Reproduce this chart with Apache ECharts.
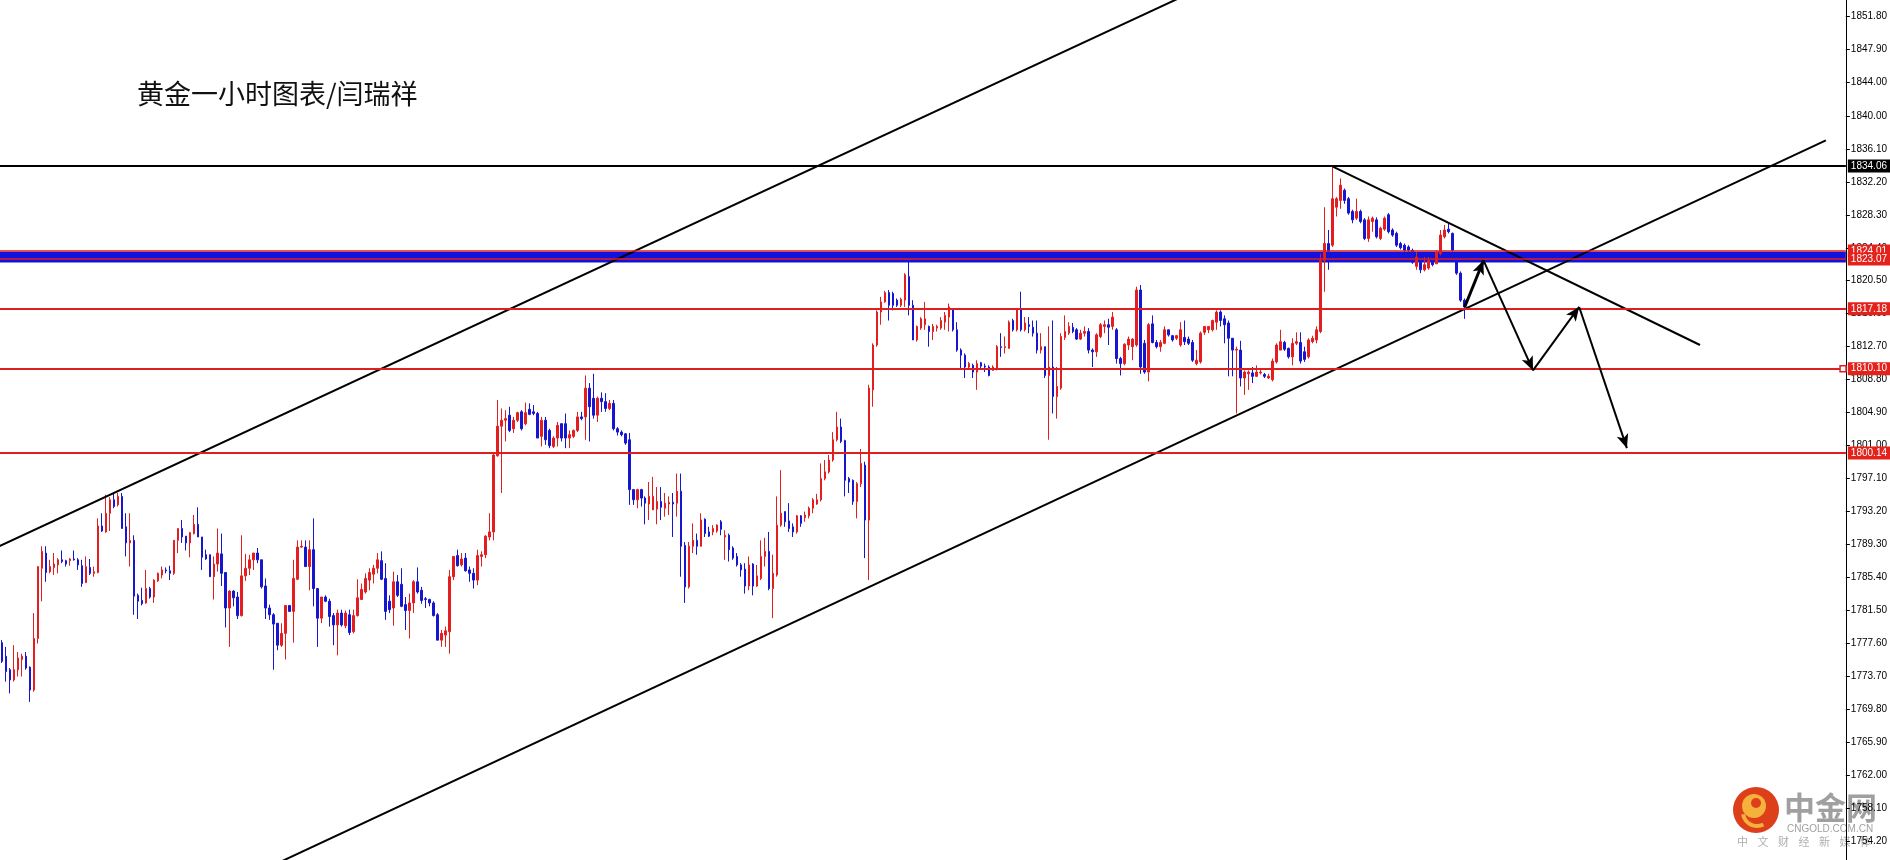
<!DOCTYPE html>
<html>
<head>
<meta charset="utf-8">
<title>黄金一小时图表</title>
<script src="https://cdn.jsdelivr.net/npm/echarts@6.0.0/dist/echarts.min.js"></script>
<style>
  html, body { margin: 0; padding: 0; background: #fff; }
  #kChart { width: 1890px; height: 860px; }
</style>
</head>
<body>
<div id="kChart"></div>
<script>
// 1小时K线, 每根 [开, 收, 低, 高] 分成四个数组
const slotCount = 462; // 右侧留空的K线位
const categories = Array.from({ length: slotCount }, (_, i) => 'H' + i);

const opens = [
  1777.7, 1776.1, 1774.5, 1773.3, 1774.5, 1775.7, 1776.1, 1774.8, 1772.1, 1778.2,
  1786.5, 1788.3, 1786.1, 1786.6, 1786.9, 1787.5, 1787.4, 1787.4, 1787.6, 1787.5,
  1786.8, 1784.8, 1786.6, 1785.9, 1786.0, 1791.5, 1790.8, 1793.0, 1794.6, 1794.0,
  1795.0, 1791.4, 1789.5, 1789.8, 1783.3, 1782.7, 1782.4, 1784.1, 1783.1, 1785.0,
  1785.7, 1786.3, 1786.2, 1785.9, 1789.8, 1791.2, 1790.3, 1789.5, 1790.6, 1791.7,
  1790.2, 1788.1, 1788.1, 1785.5, 1787.0, 1788.2, 1786.0, 1781.8, 1783.8, 1783.1,
  1780.9, 1785.6, 1786.5, 1787.5, 1788.3, 1787.5, 1784.4, 1781.8, 1781.0, 1780.0,
  1777.4, 1778.8, 1782.1, 1781.4, 1785.2, 1789.0, 1789.0, 1786.7, 1788.7, 1784.1,
  1780.6, 1783.1, 1782.6, 1780.9, 1779.8, 1781.2, 1779.7, 1781.0, 1779.0, 1780.9,
  1782.8, 1783.7, 1785.1, 1785.8, 1786.5, 1787.4, 1785.3, 1782.6, 1781.8, 1784.9,
  1784.6, 1782.2, 1781.5, 1782.4, 1784.9, 1783.9, 1782.9, 1782.8, 1782.4, 1781.0,
  1778.0, 1778.6, 1779.0, 1785.5, 1788.0, 1786.9, 1787.7, 1786.3, 1785.9, 1785.1,
  1787.9, 1788.1, 1790.2, 1790.8, 1799.8, 1803.3, 1804.0, 1804.6, 1803.0, 1804.0,
  1805.0, 1803.6, 1805.3, 1805.0, 1804.8, 1802.1, 1804.0, 1802.8, 1800.9, 1801.9,
  1803.6, 1803.6, 1801.9, 1802.1, 1802.8, 1804.4, 1804.4, 1807.8, 1806.6, 1804.6,
  1806.6, 1806.2, 1805.4, 1806.0, 1803.0, 1802.6, 1802.4, 1801.7, 1795.8, 1794.6,
  1795.8, 1794.8, 1794.1, 1793.4, 1793.5, 1794.4, 1793.6, 1794.1, 1794.3, 1794.2,
  1795.6, 1789.2, 1784.3, 1789.1, 1789.8, 1789.1, 1792.3, 1790.8, 1790.8, 1790.9,
  1792.0, 1790.2, 1790.4, 1788.9, 1787.9, 1786.9, 1786.4, 1784.4, 1787.0, 1784.4,
  1785.3, 1787.9, 1788.5, 1784.1, 1785.7, 1791.6, 1793.2, 1792.1, 1791.4, 1790.8,
  1792.7, 1792.5, 1792.7, 1793.6, 1794.1, 1794.6, 1797.1, 1797.9, 1799.3, 1801.7,
  1803.2, 1801.6, 1797.1, 1796.9, 1794.4, 1796.5, 1798.7, 1792.2, 1807.6, 1812.9,
  1816.8, 1818.0, 1819.1, 1819.0, 1818.2, 1817.6, 1818.2, 1821.0, 1817.6, 1813.5,
  1814.9, 1815.3, 1815.1, 1814.5, 1814.9, 1814.9, 1815.6, 1816.2, 1817.2, 1814.7,
  1812.3, 1811.7, 1810.3, 1810.5, 1809.7, 1810.8, 1810.4, 1810.3, 1809.9, 1810.1,
  1812.7, 1812.6, 1812.5, 1815.8, 1814.7, 1817.2, 1814.7, 1815.3, 1815.0, 1814.3,
  1812.3, 1812.7, 1809.3, 1810.3, 1806.8, 1807.8, 1813.8, 1814.3, 1815.0, 1814.7,
  1813.6, 1814.3, 1814.5, 1812.3, 1812.1, 1813.9, 1815.1, 1815.3, 1815.1, 1814.7,
  1811.3, 1810.7, 1812.9, 1812.7, 1812.9, 1819.4, 1813.1, 1809.7, 1815.4, 1813.2,
  1812.7, 1813.1, 1814.7, 1814.0, 1813.7, 1812.9, 1813.8, 1813.6, 1813.2, 1810.7,
  1810.9, 1814.4, 1814.7, 1814.7, 1815.6, 1816.8, 1816.0, 1815.5, 1813.7, 1812.3,
  1812.3, 1809.0, 1809.5, 1809.6, 1809.2, 1809.6, 1809.4, 1809.0, 1808.8, 1810.9,
  1812.3, 1813.2, 1812.5, 1811.5, 1813.1, 1813.2, 1812.1, 1811.5, 1813.3, 1813.5,
  1814.5, 1822.9, 1824.9, 1824.7, 1829.2, 1830.0, 1831.2, 1830.2, 1828.7, 1827.9,
  1828.7, 1827.7, 1825.5, 1827.5, 1827.7, 1825.5, 1826.6, 1828.3, 1826.5, 1826.1,
  1824.9, 1824.7, 1824.5, 1824.1, 1822.2, 1822.7, 1821.8, 1822.0, 1822.9, 1822.5,
  1823.7, 1825.7, 1826.6, 1826.1, 1822.9, 1821.4, 1818.2
];
const closes = [
  1775.5, 1774.3, 1773.3, 1774.5, 1775.9, 1776.1, 1774.7, 1772.1, 1778.2, 1786.7,
  1788.5, 1786.0, 1786.7, 1787.0, 1787.5, 1787.3, 1787.0, 1787.6, 1787.5, 1786.9,
  1784.7, 1786.7, 1785.9, 1786.1, 1791.5, 1790.9, 1793.0, 1794.6, 1793.8, 1795.0,
  1791.2, 1789.5, 1789.8, 1783.2, 1782.6, 1782.3, 1784.1, 1783.1, 1785.1, 1785.9,
  1786.3, 1786.2, 1785.9, 1789.8, 1791.2, 1790.2, 1789.5, 1790.7, 1791.7, 1790.2,
  1787.8, 1787.6, 1785.5, 1787.0, 1788.3, 1785.9, 1781.8, 1783.8, 1783.0, 1780.9,
  1785.6, 1786.5, 1787.5, 1788.3, 1787.5, 1784.3, 1781.8, 1781.0, 1779.9, 1777.4,
  1778.8, 1782.1, 1781.4, 1785.3, 1789.0, 1789.1, 1786.7, 1788.7, 1784.1, 1780.6,
  1783.1, 1782.6, 1780.8, 1779.8, 1781.2, 1779.8, 1781.2, 1778.9, 1780.9, 1783.0,
  1784.0, 1785.3, 1786.0, 1786.5, 1787.5, 1785.2, 1781.4, 1781.6, 1784.9, 1783.3,
  1782.0, 1781.5, 1782.4, 1784.9, 1783.7, 1782.7, 1782.8, 1782.4, 1780.9, 1778.0,
  1778.8, 1779.1, 1785.5, 1787.9, 1786.8, 1787.6, 1786.2, 1785.9, 1785.1, 1788.0,
  1788.1, 1790.3, 1790.8, 1799.9, 1803.3, 1804.0, 1804.2, 1802.8, 1804.0, 1804.9,
  1803.0, 1804.9, 1804.7, 1804.8, 1801.9, 1804.0, 1801.7, 1801.0, 1801.9, 1803.4,
  1801.9, 1801.9, 1802.3, 1802.8, 1804.4, 1804.2, 1807.8, 1805.6, 1804.6, 1806.6,
  1806.2, 1805.4, 1806.0, 1803.0, 1802.6, 1802.3, 1801.3, 1795.8, 1794.6, 1795.8,
  1794.8, 1794.2, 1795.0, 1795.0, 1794.4, 1793.7, 1794.2, 1794.3, 1794.1, 1795.6,
  1789.1, 1784.3, 1789.1, 1789.8, 1789.1, 1792.2, 1790.6, 1790.3, 1791.2, 1791.6,
  1791.1, 1790.4, 1788.7, 1787.7, 1786.9, 1786.3, 1784.4, 1786.9, 1784.4, 1785.6,
  1787.9, 1788.5, 1784.1, 1785.9, 1791.6, 1793.0, 1792.0, 1791.2, 1790.8, 1792.7,
  1791.8, 1792.8, 1793.6, 1794.6, 1794.6, 1797.1, 1797.9, 1799.3, 1801.7, 1803.2,
  1801.5, 1796.9, 1796.7, 1794.4, 1796.5, 1798.9, 1792.2, 1807.8, 1812.9, 1816.8,
  1818.0, 1819.1, 1817.6, 1817.6, 1817.6, 1818.3, 1821.2, 1817.6, 1813.5, 1815.1,
  1816.0, 1816.0, 1814.5, 1815.1, 1815.1, 1815.8, 1816.4, 1817.4, 1814.7, 1812.3,
  1811.7, 1810.3, 1810.7, 1809.7, 1810.7, 1810.4, 1810.3, 1809.3, 1810.3, 1812.7,
  1812.6, 1812.7, 1815.6, 1814.7, 1817.2, 1814.7, 1815.5, 1815.1, 1814.3, 1812.3,
  1812.7, 1809.3, 1810.3, 1806.8, 1808.0, 1813.9, 1814.5, 1815.1, 1814.5, 1813.6,
  1814.3, 1814.5, 1812.3, 1812.1, 1814.1, 1815.3, 1815.3, 1815.0, 1816.2, 1811.3,
  1810.7, 1813.0, 1813.6, 1813.6, 1819.4, 1810.3, 1809.7, 1815.3, 1813.2, 1812.7,
  1813.2, 1814.7, 1814.1, 1813.5, 1814.0, 1814.7, 1813.3, 1813.1, 1811.1, 1811.1,
  1814.3, 1815.1, 1815.1, 1815.8, 1816.8, 1815.8, 1815.3, 1813.7, 1812.3, 1812.4,
  1809.0, 1809.7, 1809.7, 1809.2, 1809.7, 1809.7, 1809.2, 1809.2, 1811.0, 1812.9,
  1813.3, 1812.4, 1811.5, 1813.1, 1813.3, 1811.0, 1811.2, 1813.5, 1813.7, 1814.7,
  1822.9, 1824.9, 1823.7, 1830.2, 1830.2, 1831.8, 1830.0, 1828.5, 1827.7, 1828.7,
  1827.5, 1825.5, 1827.7, 1827.9, 1825.7, 1826.7, 1827.9, 1826.3, 1825.9, 1824.7,
  1824.4, 1824.1, 1824.1, 1822.7, 1823.3, 1821.8, 1822.4, 1822.9, 1822.4, 1823.9,
  1825.9, 1826.5, 1826.3, 1824.1, 1821.4, 1818.2, 1817.4
];
const lows = [
  1775.3, 1773.1, 1771.7, 1773.1, 1773.7, 1773.7, 1774.5, 1770.7, 1771.9, 1777.6,
  1782.6, 1784.9, 1785.9, 1785.7, 1785.9, 1787.1, 1786.7, 1786.8, 1787.4, 1786.3,
  1784.3, 1784.8, 1785.7, 1785.5, 1785.9, 1790.8, 1790.7, 1790.9, 1793.6, 1793.8,
  1791.2, 1787.9, 1786.7, 1781.0, 1780.5, 1782.1, 1782.3, 1782.9, 1782.4, 1784.9,
  1785.3, 1785.9, 1785.1, 1785.7, 1788.3, 1789.5, 1788.6, 1787.8, 1790.5, 1790.2,
  1786.3, 1787.5, 1785.5, 1782.8, 1786.1, 1784.4, 1779.5, 1777.2, 1782.0, 1780.5,
  1780.8, 1785.0, 1785.7, 1786.3, 1787.1, 1784.1, 1780.5, 1780.4, 1774.5, 1776.8,
  1777.2, 1775.7, 1781.4, 1777.7, 1785.1, 1788.9, 1786.7, 1783.9, 1782.0, 1777.2,
  1780.0, 1782.5, 1779.6, 1777.4, 1776.2, 1779.6, 1779.4, 1778.6, 1778.8, 1780.8,
  1782.8, 1783.5, 1783.9, 1784.7, 1785.9, 1785.1, 1780.4, 1781.2, 1779.7, 1783.1,
  1781.9, 1779.2, 1778.2, 1781.2, 1783.5, 1782.3, 1781.8, 1782.0, 1780.8, 1778.0,
  1777.2, 1777.2, 1776.4, 1785.1, 1786.7, 1786.7, 1786.1, 1784.9, 1784.1, 1784.5,
  1786.7, 1787.7, 1789.8, 1789.8, 1799.7, 1795.4, 1801.5, 1802.6, 1802.5, 1803.8,
  1802.8, 1803.4, 1804.6, 1804.6, 1801.9, 1800.9, 1801.1, 1800.7, 1800.7, 1800.9,
  1801.5, 1800.7, 1800.7, 1801.9, 1802.6, 1804.0, 1801.7, 1801.5, 1804.2, 1803.8,
  1805.0, 1805.0, 1805.2, 1802.8, 1802.2, 1802.1, 1801.1, 1794.0, 1794.0, 1793.6,
  1793.8, 1791.7, 1792.2, 1793.4, 1791.7, 1792.2, 1792.6, 1792.8, 1790.2, 1792.6,
  1785.5, 1782.4, 1784.1, 1788.3, 1788.1, 1789.1, 1790.2, 1790.2, 1790.4, 1790.7,
  1790.4, 1787.5, 1787.3, 1787.5, 1786.7, 1785.5, 1783.5, 1783.9, 1783.3, 1784.3,
  1785.1, 1786.7, 1783.9, 1780.6, 1785.5, 1791.4, 1791.4, 1790.8, 1790.2, 1790.6,
  1791.4, 1792.0, 1792.4, 1793.0, 1794.0, 1794.4, 1796.9, 1797.7, 1799.1, 1801.5,
  1801.3, 1795.0, 1795.4, 1794.0, 1792.4, 1796.1, 1787.7, 1785.1, 1805.6, 1812.7,
  1815.3, 1817.9, 1815.8, 1817.0, 1817.4, 1817.4, 1817.4, 1816.4, 1813.5, 1813.3,
  1814.7, 1814.7, 1812.7, 1813.5, 1814.5, 1814.7, 1814.7, 1814.5, 1814.5, 1812.1,
  1810.1, 1809.0, 1810.0, 1809.0, 1807.6, 1810.1, 1809.7, 1809.2, 1809.9, 1809.9,
  1811.5, 1811.9, 1812.5, 1814.5, 1814.5, 1814.5, 1814.5, 1814.3, 1813.9, 1811.9,
  1811.9, 1809.0, 1801.7, 1804.8, 1804.2, 1807.6, 1813.5, 1814.1, 1814.3, 1813.5,
  1813.5, 1813.9, 1811.9, 1810.3, 1811.5, 1813.7, 1814.3, 1812.9, 1814.7, 1810.7,
  1809.3, 1810.5, 1812.3, 1811.1, 1812.7, 1809.5, 1809.5, 1808.6, 1813.1, 1812.5,
  1812.1, 1813.0, 1813.9, 1813.3, 1813.5, 1812.7, 1812.9, 1812.9, 1810.9, 1810.5,
  1810.7, 1814.1, 1814.3, 1814.5, 1814.7, 1815.1, 1813.1, 1809.2, 1809.2, 1804.8,
  1808.0, 1807.0, 1807.6, 1808.4, 1809.1, 1809.4, 1809.0, 1808.9, 1808.6, 1810.7,
  1812.3, 1812.2, 1811.3, 1810.5, 1812.9, 1810.7, 1810.9, 1811.3, 1813.1, 1813.1,
  1814.3, 1819.2, 1821.8, 1824.5, 1828.1, 1829.0, 1829.6, 1828.3, 1827.3, 1827.7,
  1827.3, 1825.3, 1825.1, 1826.3, 1825.5, 1825.3, 1826.4, 1826.1, 1825.7, 1824.5,
  1824.2, 1823.9, 1823.9, 1822.5, 1821.8, 1821.4, 1821.6, 1821.8, 1822.2, 1822.5,
  1823.5, 1825.5, 1826.1, 1822.9, 1821.2, 1818.0, 1816.0
];
const highs = [
  1778.0, 1777.2, 1774.7, 1777.4, 1776.6, 1776.4, 1776.6, 1774.9, 1781.2, 1786.7,
  1789.1, 1789.1, 1787.5, 1788.3, 1787.7, 1788.6, 1787.5, 1787.7, 1788.6, 1787.7,
  1787.5, 1787.9, 1787.6, 1786.7, 1792.4, 1793.0, 1795.2, 1794.9, 1795.4, 1795.4,
  1795.4, 1793.0, 1793.0, 1790.4, 1783.5, 1784.2, 1786.3, 1784.3, 1785.2, 1786.0,
  1786.7, 1786.6, 1786.8, 1789.8, 1791.2, 1792.2, 1790.3, 1790.8, 1792.8, 1793.7,
  1790.2, 1788.7, 1788.1, 1787.9, 1791.2, 1790.6, 1786.0, 1783.9, 1783.9, 1783.7,
  1790.4, 1788.2, 1788.1, 1788.3, 1788.9, 1787.5, 1785.3, 1782.2, 1781.2, 1780.0,
  1780.0, 1782.1, 1782.1, 1787.5, 1789.8, 1789.8, 1789.8, 1789.8, 1792.4, 1784.1,
  1783.1, 1783.3, 1782.9, 1781.2, 1781.6, 1781.6, 1781.5, 1781.6, 1781.6, 1785.2,
  1784.7, 1785.9, 1786.5, 1786.9, 1788.3, 1788.5, 1787.1, 1783.3, 1786.1, 1785.7,
  1786.5, 1783.1, 1783.5, 1785.1, 1786.6, 1784.3, 1783.1, 1782.9, 1782.6, 1781.2,
  1779.2, 1779.6, 1786.3, 1787.9, 1788.7, 1788.3, 1788.3, 1786.7, 1786.5, 1788.7,
  1788.5, 1790.4, 1793.0, 1800.1, 1806.4, 1805.4, 1805.2, 1805.6, 1804.4, 1805.0,
  1805.2, 1806.1, 1806.0, 1805.8, 1805.0, 1804.4, 1804.4, 1803.0, 1802.1, 1803.8,
  1803.6, 1804.8, 1802.8, 1802.9, 1805.0, 1805.0, 1809.3, 1808.4, 1809.5, 1806.8,
  1807.3, 1807.2, 1806.4, 1806.4, 1803.2, 1802.8, 1802.5, 1802.5, 1795.8, 1795.9,
  1795.9, 1795.0, 1796.7, 1797.3, 1796.1, 1796.1, 1795.4, 1795.0, 1795.4, 1797.7,
  1797.7, 1789.6, 1789.6, 1791.8, 1790.6, 1793.0, 1792.4, 1791.4, 1791.6, 1791.7,
  1792.2, 1791.0, 1790.6, 1789.1, 1788.3, 1787.1, 1787.1, 1787.9, 1787.1, 1786.9,
  1789.8, 1790.1, 1790.8, 1788.1, 1795.0, 1798.1, 1793.2, 1794.2, 1791.8, 1792.8,
  1792.8, 1793.2, 1793.8, 1794.8, 1795.3, 1798.9, 1799.3, 1799.9, 1802.6, 1805.0,
  1804.2, 1801.7, 1797.3, 1797.0, 1796.7, 1800.6, 1799.1, 1808.2, 1813.1, 1817.0,
  1818.6, 1819.3, 1819.4, 1819.2, 1818.4, 1818.5, 1821.4, 1823.1, 1818.2, 1815.2,
  1816.2, 1818.0, 1815.2, 1815.4, 1815.3, 1816.2, 1816.8, 1817.8, 1817.2, 1815.6,
  1812.5, 1811.9, 1810.9, 1810.7, 1811.1, 1810.9, 1810.7, 1810.5, 1810.5, 1812.9,
  1814.3, 1813.9, 1815.8, 1816.0, 1817.2, 1819.2, 1816.2, 1816.2, 1815.8, 1815.8,
  1814.3, 1812.7, 1815.1, 1815.8, 1810.3, 1814.3, 1816.4, 1815.6, 1815.5, 1814.9,
  1814.7, 1815.1, 1814.9, 1812.5, 1814.3, 1815.5, 1815.8, 1816.0, 1816.8, 1814.9,
  1811.5, 1813.1, 1813.9, 1813.7, 1819.8, 1820.0, 1813.5, 1815.5, 1816.4, 1813.5,
  1813.5, 1815.1, 1814.7, 1814.1, 1814.1, 1815.6, 1815.8, 1813.9, 1813.5, 1812.3,
  1814.5, 1815.1, 1815.1, 1815.9, 1817.0, 1817.0, 1816.4, 1815.8, 1813.7, 1812.7,
  1813.4, 1809.9, 1809.9, 1810.3, 1810.5, 1810.0, 1809.6, 1809.5, 1811.3, 1813.1,
  1814.7, 1813.4, 1812.6, 1813.7, 1814.4, 1814.4, 1812.7, 1813.7, 1814.0, 1815.1,
  1823.7, 1829.2, 1826.5, 1834.0, 1830.4, 1832.6, 1831.4, 1830.4, 1828.9, 1830.2,
  1828.9, 1827.9, 1828.1, 1828.1, 1828.0, 1826.9, 1828.1, 1828.5, 1826.7, 1826.3,
  1825.1, 1824.9, 1824.7, 1824.3, 1823.9, 1823.3, 1823.3, 1823.3, 1823.1, 1824.1,
  1826.5, 1827.1, 1827.3, 1826.2, 1823.0, 1821.6, 1818.4
];

// 右侧价格刻度
const tickValues = [
  1754.2, 1758.1, 1762.0, 1765.9, 1769.8, 1773.7, 1777.6, 1781.5, 1785.4,
  1789.3, 1793.2, 1797.1, 1801.0, 1804.9, 1808.8, 1812.7, 1816.6, 1820.5,
  1824.4, 1828.3, 1832.2, 1836.1, 1840.0, 1844.0, 1847.9, 1851.8
];

// 水平价位线
const topLine = 1834.06;
const redLevels = [1824.01, 1823.07, 1817.18, 1810.10, 1800.14];
const blueBand = [1822.66, 1823.92];

// 趋势线 [K线序号, 价格]
const upperChannel = [[-5, 1788.15], [300, 1855.1]];
const lowerChannel = [[65, 1750.75], [456.5, 1837.1]];
const peakLine = [[333.1, 1834.0], [425, 1812.9]];
const forecastPath = [[366.1, 1817.4], [370.8, 1822.9], [383.2, 1809.9], [394.75, 1817.4], [406.7, 1800.7]];

const upColor = '#e41e1e';
const downColor = '#1616d0';
const levelRed = '#dc2020';

let chart = echarts.init(document.getElementById('kChart'));

const candles = opens.map((o, i) => [o, closes[i], lows[i], highs[i]]);

const levelData = [{
  yAxis: topLine,
  lineStyle: { color: '#000', width: 2, type: 'solid' },
  label: { backgroundColor: '#000' }
}].concat(redLevels.map((v, i) => ({
  yAxis: v,
  lineStyle: { color: levelRed, width: i < 2 ? 1.5 : 2, type: 'solid' },
  label: { backgroundColor: '#e3221c' }
})));

const arrowData = [];
for (let i = 0; i < forecastPath.length - 1; i++) {
  arrowData.push([
    { coord: forecastPath[i], lineStyle: { width: i === 0 ? 3 : 2 } },
    { coord: forecastPath[i + 1] }
  ]);
}

function trendSeries(name, pts, extra) {
  return Object.assign({
    name: name,
    type: 'line',
    xAxisIndex: 1,
    yAxisIndex: 0,
    data: pts,
    showSymbol: false,
    symbol: 'none',
    clip: true,
    silent: true,
    z: 4,
    lineStyle: { color: '#000', width: 2 }
  }, extra || {});
}

const waterChars = ['中', '文', '财', '经', '新', '媒', '体'];

chart.setOption({
  animation: false,
  backgroundColor: '#fff',
  title: {
    text: '黄金一小时图表/闫瑞祥',
    left: 137,
    top: 80,
    padding: 0,
    textStyle: {
      color: '#111',
      fontFamily: 'Noto Sans CJK SC',
      fontWeight: 'normal',
      fontSize: 27
    }
  },
  grid: { left: -1.5, right: 43, top: 0, bottom: 0, containLabel: false },
  xAxis: [{
    type: 'category',
    data: categories,
    boundaryGap: true,
    show: false
  }, {
    type: 'value',
    min: -0.5,
    max: slotCount - 0.5,
    show: false
  }],
  yAxis: {
    type: 'value',
    position: 'right',
    min: 1752.0,
    max: 1853.7,
    axisLine: { show: true, onZero: false, lineStyle: { color: '#000', width: 1 } },
    axisTick: {
      show: true,
      customValues: tickValues,
      length: 4,
      lineStyle: { color: '#000' }
    },
    axisLabel: {
      customValues: tickValues,
      formatter: v => v.toFixed(2),
      color: '#000',
      fontSize: 10,
      fontFamily: 'Liberation Sans',
      margin: 5
    },
    splitLine: { show: false }
  },
  series: [{
    name: 'XAUUSD H1',
    type: 'candlestick',
    data: candles,
    barWidth: 2,
    z: 3,
    silent: true,
    itemStyle: {
      color: upColor,
      color0: downColor,
      borderColor: upColor,
      borderColor0: downColor,
      borderWidth: 1
    },
    markArea: {
      silent: true,
      z: 1,
      itemStyle: { color: '#1212dc' },
      data: [[{ yAxis: blueBand[0] }, { yAxis: blueBand[1] }]]
    },
    markLine: {
      silent: true,
      symbol: ['none', 'none'],
      z: 5,
      label: {
        position: 'end',
        distance: 2,
        formatter: p => p.value.toFixed(2),
        color: '#fff',
        fontSize: 10,
        fontFamily: 'Liberation Sans',
        padding: [2, 4, 1, 3]
      },
      data: levelData
    }
  },
  trendSeries('上轨', upperChannel),
  trendSeries('下轨', lowerChannel, {
    markPoint: {
      silent: true,
      symbol: 'rect',
      symbolSize: 6,
      itemStyle: { color: '#fff', borderColor: levelRed, borderWidth: 1.5 },
      label: { show: false },
      data: [{ coord: [460.8, redLevels[3]] }]
    }
  }),
  trendSeries('压力线', peakLine, {
    markLine: {
      silent: true,
      symbol: ['none', 'arrow'],
      symbolSize: [9, 14],
      label: { show: false },
      lineStyle: { color: '#000', width: 2, type: 'solid' },
      data: arrowData
    }
  })],
  graphic: [{
    type: 'group',
    silent: true,
    z: 100,
    children: [
      { type: 'circle', shape: { cx: 1756, cy: 810, r: 23 }, style: { fill: '#dc3f1a' } },
      { type: 'circle', shape: { cx: 1754, cy: 806, r: 12 }, style: { fill: '#f6b13c' } },
      { type: 'circle', shape: { cx: 1756, cy: 803, r: 5 }, style: { fill: '#dc3f1a' } },
      {
        type: 'arc',
        shape: { cx: 1757, cy: 812, r: 14, startAngle: Math.PI * 0.35, endAngle: Math.PI * 0.95 },
        style: { stroke: '#f6b13c', lineWidth: 4, fill: null }
      },
      {
        type: 'text', x: 1784, y: 807,
        style: {
          text: '中金网', fill: 'rgba(150,150,150,0.9)',
          font: 'bold 31px "Noto Sans CJK SC"', textVerticalAlign: 'middle'
        }
      },
      {
        type: 'text', x: 1787, y: 829,
        style: {
          text: 'CNGOLD.COM.CN', fill: 'rgba(150,150,150,0.9)',
          font: '10px "Liberation Sans"', textVerticalAlign: 'middle'
        }
      }
    ].concat(waterChars.map((ch, i) => ({
      type: 'text', x: 1737 + i * 20.5, y: 842,
      style: {
        text: ch, fill: 'rgba(160,160,160,0.85)',
        font: '11px "Noto Sans CJK SC"', textVerticalAlign: 'middle'
      }
    })))
  }]
});

window.addEventListener('resize', function () {
  chart.resize();
});
</script>
</body>
</html>
